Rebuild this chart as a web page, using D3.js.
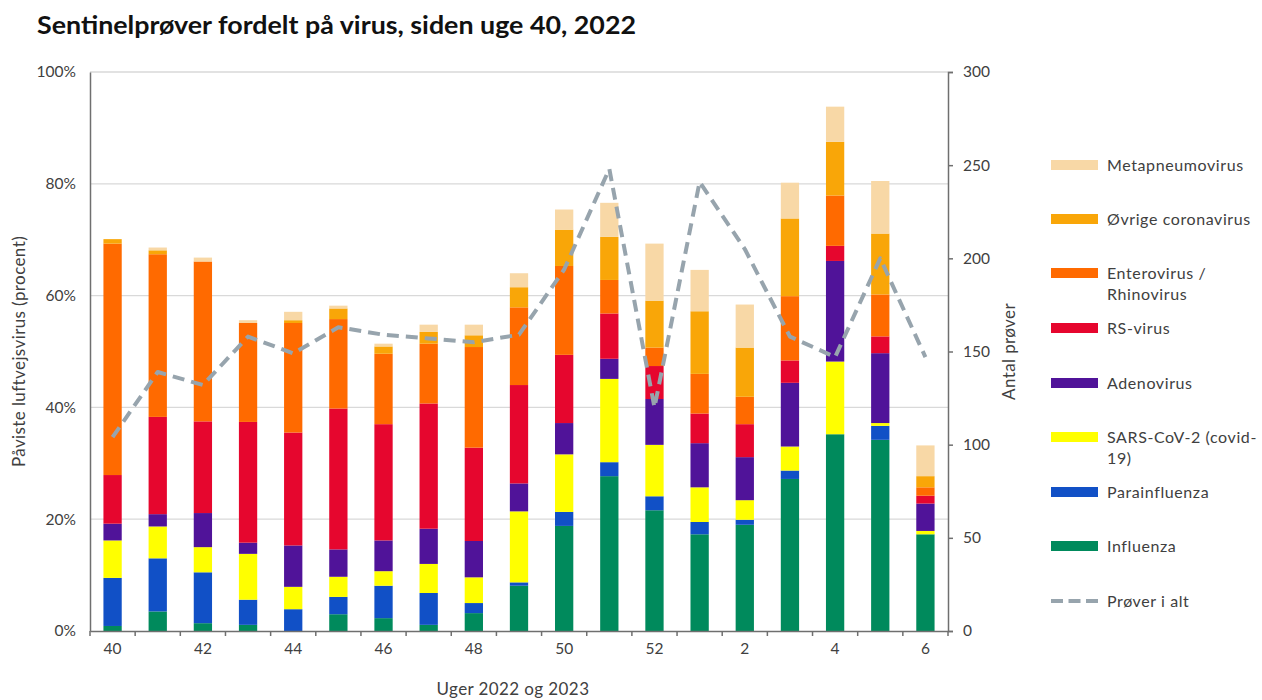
<!DOCTYPE html>
<html>
<head>
<meta charset="utf-8">
<script src="https://cdn.jsdelivr.net/npm/d3@7"></script>
<style>
  body { margin: 0; background: #fff; }
  text { font-family: Lato, "Open Sans", sans-serif; fill: #404040; }
</style>
</head>
<body>
<svg id="chart" width="1262" height="700"></svg>
<script>
// uger (x-akse)
var weeks = ["40","41","42","43","44","45","46","47","48","49","50","51","52","1","2","3","4","5","6"];

// andele i procent
var influenza     = [0.9, 3.5, 1.4, 1.1, 0.0, 3.0, 2.3, 1.1, 3.2, 8.1, 18.8, 27.7, 21.6, 17.3, 19.0, 27.2, 35.2, 34.2, 17.3];
var parainfluenza = [8.6, 9.5, 9.1, 4.5, 3.9, 3.1, 5.8, 5.7, 1.8, 0.6, 2.5, 2.5, 2.5, 2.2, 0.9, 1.5, 0.0, 2.5, 0.0];
var sarsCov2      = [6.7, 5.7, 4.5, 8.2, 4.0, 3.6, 2.6, 5.2, 4.6, 12.7, 10.3, 14.9, 9.2, 6.2, 3.5, 4.3, 13.0, 0.5, 0.6];
var adenovirus    = [3.0, 2.2, 6.1, 2.0, 7.4, 4.9, 5.5, 6.3, 6.5, 5.0, 5.6, 3.6, 8.2, 7.9, 7.7, 11.4, 18.0, 12.5, 4.9];
var rsVirus       = [8.7, 17.4, 16.4, 21.6, 20.2, 25.2, 20.8, 22.4, 16.7, 17.6, 12.2, 8.1, 5.9, 5.3, 5.9, 4.0, 2.7, 3.0, 1.4];
var enterovirus   = [41.4, 29.1, 28.6, 17.7, 19.6, 16.0, 12.6, 10.7, 18.0, 13.9, 15.9, 6.0, 3.3, 7.1, 4.9, 11.5, 9.0, 7.5, 1.5];
var coronavirus   = [0.8, 0.7, 0.0, 0.0, 0.5, 1.9, 1.3, 2.1, 2.1, 3.6, 6.5, 7.7, 8.4, 11.2, 8.8, 13.9, 9.6, 10.9, 2.0];
var metapneumo    = [0.0, 0.5, 0.7, 0.5, 1.5, 0.5, 0.5, 1.3, 1.9, 2.5, 3.6, 6.1, 10.2, 7.4, 7.7, 6.4, 6.3, 9.4, 5.5];

// antal prøver (højre akse)
var proever = [104, 139, 132, 158, 149, 163, 159, 157, 155, 159, 194, 248, 120, 241, 205, 158, 147, 200, 147];

var seriesNames = ["Influenza", "Parainfluenza", "SARS-CoV-2 (covid-19)", "Adenovirus", "RS-virus",
                   "Enterovirus / Rhinovirus", "Øvrige coronavirus", "Metapneumovirus"];
var seriesData = [influenza, parainfluenza, sarsCov2, adenovirus, rsVirus, enterovirus, coronavirus, metapneumo];
var seriesColors = ["#008a5c", "#1150c6", "#ffff00", "#501399", "#e6062e", "#ff6a00", "#f9a608", "#f8d8a6"];

var pctTicks = [0, 20, 40, 60, 80, 100];
var countTicks = [0, 50, 100, 150, 200, 250, 300];

var svg = d3.select("#chart");
var plotLeft = 90, plotRight = 948, plotTop = 72, plotBottom = 631;

// tabel til d3.stack
var table = weeks.map(function(w, i) {
  var row = { week: w };
  seriesNames.forEach(function(n, k) { row[n] = seriesData[k][i]; });
  return row;
});
var stacked = d3.stack().keys(seriesNames)(table);

var x = d3.scaleBand().domain(weeks).range([plotLeft, plotRight]).paddingInner(0.595).paddingOuter(0.2975);
var y = d3.scaleLinear().domain([0, 100]).range([plotBottom, plotTop]);
var y2 = d3.scaleLinear().domain([0, 300]).range([plotBottom, plotTop]);

// gitterlinjer
svg.append("g").selectAll("line")
  .data(pctTicks.filter(function(d) { return d > 0; }))
  .enter().append("line")
  .attr("x1", plotLeft).attr("x2", plotRight)
  .attr("y1", function(d) { return y(d); }).attr("y2", function(d) { return y(d); })
  .attr("stroke", "#d9d9d9").attr("stroke-width", 1.3);

// søjler
svg.append("g").selectAll("g")
  .data(stacked)
  .enter().append("g")
  .attr("fill", function(d, i) { return seriesColors[i]; })
  .selectAll("rect")
  .data(function(d) { return d; })
  .enter().append("rect")
  .attr("x", function(d) { return x(d.data.week); })
  .attr("width", x.bandwidth())
  .attr("y", function(d) { return y(d[1]); })
  .attr("height", function(d) { return y(d[0]) - y(d[1]); });

// venstre akse
var yAxis = svg.append("g").attr("transform", "translate(" + plotLeft + ",0)")
  .call(d3.axisLeft(y).tickValues(pctTicks).tickSize(0).tickPadding(14).tickFormat(function(d) { return d + "%"; }));
yAxis.select(".domain").attr("stroke", "#6f6f6f").attr("stroke-width", 1.5);
yAxis.selectAll("text").style("font-size", "15.5px").style("fill", "#404040");

// højre akse
var y2Axis = svg.append("g").attr("transform", "translate(" + plotRight + ",0)")
  .call(d3.axisRight(y2).tickValues(countTicks).tickSizeOuter(0).tickSize(5).tickPadding(10));
y2Axis.select(".domain").attr("stroke", "#6f6f6f").attr("stroke-width", 1.5);
y2Axis.selectAll("line").attr("stroke", "#6f6f6f").attr("stroke-width", 1.5);
y2Axis.selectAll("text").style("font-size", "15.5px").style("fill", "#404040");

// x-akse
var xAxis = svg.append("g").attr("transform", "translate(0," + plotBottom + ")")
  .call(d3.axisBottom(x).tickSize(0).tickPadding(12)
    .tickFormat(function(d, i) { return i % 2 === 0 ? d : ""; }));
xAxis.select(".domain").attr("stroke", "#6f6f6f").attr("stroke-width", 1.5);
xAxis.selectAll("text").style("font-size", "15.5px").style("fill", "#404040");
var step = x.step();
var edges = weeks.map(function(w) { return x(w) + x.bandwidth() / 2 - step / 2; });
edges.push(plotRight);
xAxis.selectAll(".edge").data(edges).enter().append("line")
  .attr("class", "edge")
  .attr("x1", function(d) { return d; }).attr("x2", function(d) { return d; })
  .attr("y1", 0).attr("y2", 5)
  .attr("stroke", "#6f6f6f").attr("stroke-width", 1.5);

// linje: prøver i alt
var line = d3.line()
  .x(function(d, i) { return x(weeks[i]) + x.bandwidth() / 2; })
  .y(function(d) { return y2(d); });
svg.append("path")
  .datum(proever)
  .attr("d", line)
  .attr("fill", "none")
  .attr("stroke", "#97a4ad")
  .attr("stroke-width", 4)
  .attr("stroke-dasharray", "12,7")
  .attr("stroke-linejoin", "round");

// titler
svg.append("text")
  .attr("x", 37).attr("y", 34)
  .attr("textLength", 599).attr("lengthAdjust", "spacingAndGlyphs")
  .style("font-size", "25px").style("font-weight", "bold").style("fill", "#111")
  .text("Sentinelprøver fordelt på virus, siden uge 40, 2022");

svg.append("text")
  .attr("transform", "translate(25," + ((plotTop + plotBottom) / 2) + ") rotate(-90)")
  .attr("text-anchor", "middle")
  .style("font-size", "17px").style("letter-spacing", "0.4px")
  .text("Påviste luftvejsvirus (procent)");

svg.append("text")
  .attr("transform", "translate(1015," + ((plotTop + plotBottom) / 2) + ") rotate(-90)")
  .attr("text-anchor", "middle")
  .style("font-size", "17px").style("letter-spacing", "0.4px")
  .text("Antal prøver");

svg.append("text")
  .attr("x", 513).attr("y", 695)
  .attr("text-anchor", "middle")
  .style("font-size", "17px").style("letter-spacing", "0.4px")
  .text("Uger 2022 og 2023");

// signaturforklaring (øverst: metapneumovirus)
var legendItems = [
  { lines: ["Metapneumovirus"], color: seriesColors[7], y: 165 },
  { lines: ["Øvrige coronavirus"], color: seriesColors[6], y: 219 },
  { lines: ["Enterovirus /", "Rhinovirus"], color: seriesColors[5], y: 273 },
  { lines: ["RS-virus"], color: seriesColors[4], y: 328 },
  { lines: ["Adenovirus"], color: seriesColors[3], y: 383 },
  { lines: ["SARS-CoV-2 (covid-", "19)"], color: seriesColors[2], y: 437 },
  { lines: ["Parainfluenza"], color: seriesColors[1], y: 492 },
  { lines: ["Influenza"], color: seriesColors[0], y: 546 }
];
var lg = svg.append("g");
legendItems.forEach(function(it) {
  lg.append("rect").attr("x", 1051).attr("y", it.y - 5).attr("width", 47).attr("height", 10).attr("fill", it.color);
  it.lines.forEach(function(t, j) {
    lg.append("text").attr("x", 1107).attr("y", it.y + 6 + j * 21)
      .style("font-size", "16px").style("letter-spacing", "0.6px").text(t);
  });
});
lg.append("line").attr("x1", 1051).attr("x2", 1098).attr("y1", 601).attr("y2", 601)
  .attr("stroke", "#97a4ad").attr("stroke-width", 4).attr("stroke-dasharray", "12,5.5");
lg.append("text").attr("x", 1107).attr("y", 607).style("font-size", "16px").style("letter-spacing", "0.6px").text("Prøver i alt");
</script>
</body>
</html>
